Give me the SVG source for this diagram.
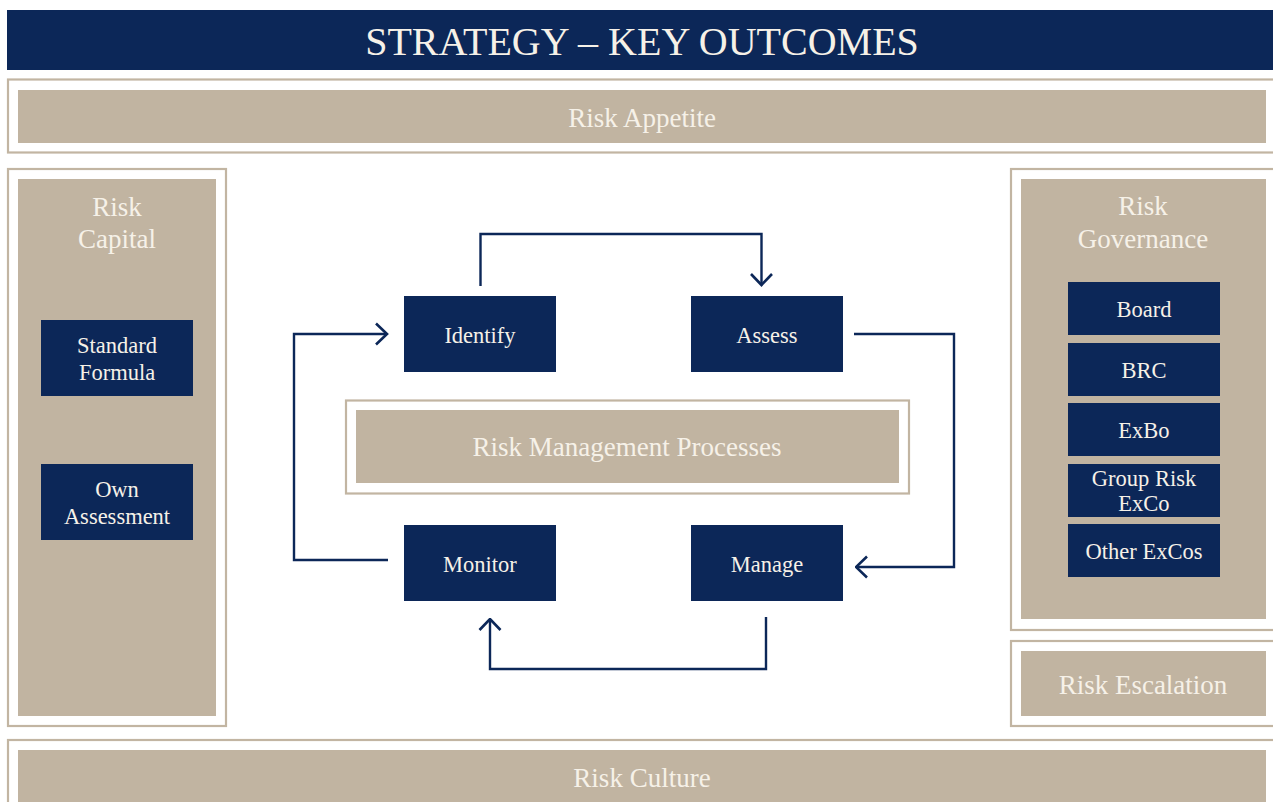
<svg xmlns="http://www.w3.org/2000/svg" width="1273" height="802" viewBox="0 0 1273 802">
  <defs>
    <style>
      .frame { fill: #ffffff; stroke: #c2b5a2; stroke-width: 2.2; }
      .panel { fill: #c1b4a1; }
      .navy { fill: #0c2758; }
      .lbl { font-family: "Liberation Serif", "DejaVu Serif", serif; fill: #f6f1e8; text-anchor: middle; }
      .big { font-size: 27px; }
      .node { font-size: 22.5px; }
      .title { font-size: 40px; }
      .link { fill: none; stroke: #0c2758; stroke-width: 2.4; stroke-linejoin: miter; }
    </style>
    <marker id="chev" viewBox="0 0 14 24" refX="12.5" refY="12" markerWidth="14" markerHeight="24" markerUnits="userSpaceOnUse" orient="auto">
      <path d="M1.5,1.5 L12.5,12 L1.5,22.5" fill="none" stroke="#0c2758" stroke-width="2.6"/>
    </marker>
  </defs>

  <rect width="1273" height="802" fill="#ffffff"/>

  <!-- header banner -->
  <g id="title">
    <rect class="navy" x="7" y="10" width="1266" height="60"/>
    <text class="lbl title" x="642" y="55">STRATEGY – KEY OUTCOMES</text>
  </g>

  <!-- risk appetite band -->
  <g id="risk-appetite">
    <rect class="frame" x="8" y="79.5" width="1280" height="73"/>
    <rect class="panel" x="18" y="90" width="1248" height="53"/>
    <text class="lbl big" x="642" y="127">Risk Appetite</text>
  </g>

  <!-- risk capital column -->
  <g id="risk-capital">
    <rect class="frame" x="8" y="169" width="218" height="557"/>
    <rect class="panel" x="18" y="179" width="198" height="537"/>
    <text class="lbl big" x="117" y="216">Risk</text>
    <text class="lbl big" x="117" y="248">Capital</text>
  </g>
  <g id="standard-formula">
    <rect class="navy" x="41" y="320" width="152" height="76"/>
    <text class="lbl node" x="117" y="353">Standard</text>
    <text class="lbl node" x="117" y="380">Formula</text>
  </g>
  <g id="own-assessment">
    <rect class="navy" x="41" y="464" width="152" height="76"/>
    <text class="lbl node" x="117" y="497">Own</text>
    <text class="lbl node" x="117" y="524">Assessment</text>
  </g>

  <!-- risk governance column -->
  <g id="risk-governance">
    <rect class="frame" x="1011" y="169" width="300" height="461"/>
    <rect class="panel" x="1021" y="179" width="245" height="440"/>
    <text class="lbl big" x="1143" y="215">Risk</text>
    <text class="lbl big" x="1143" y="248">Governance</text>
  </g>
  <g id="board">
    <rect class="navy" x="1068" y="282" width="152" height="53"/>
    <text class="lbl node" x="1144" y="317">Board</text>
  </g>
  <g id="brc">
    <rect class="navy" x="1068" y="343" width="152" height="53"/>
    <text class="lbl node" x="1144" y="378">BRC</text>
  </g>
  <g id="exbo">
    <rect class="navy" x="1068" y="403" width="152" height="53"/>
    <text class="lbl node" x="1144" y="438">ExBo</text>
  </g>
  <g id="group-risk-exco">
    <rect class="navy" x="1068" y="464" width="152" height="53"/>
    <text class="lbl node" x="1144" y="486">Group Risk</text>
    <text class="lbl node" x="1144" y="511">ExCo</text>
  </g>
  <g id="other-excos">
    <rect class="navy" x="1068" y="524" width="152" height="53"/>
    <text class="lbl node" x="1144" y="559">Other ExCos</text>
  </g>

  <!-- risk escalation -->
  <g id="risk-escalation">
    <rect class="frame" x="1011" y="641" width="300" height="85"/>
    <rect class="panel" x="1021" y="651" width="245" height="65"/>
    <text class="lbl big" x="1143" y="694">Risk Escalation</text>
  </g>

  <!-- risk culture band -->
  <g id="risk-culture">
    <rect class="frame" x="8" y="740" width="1300" height="100"/>
    <rect class="panel" x="18" y="750" width="1248" height="60"/>
    <text class="lbl big" x="642" y="787">Risk Culture</text>
  </g>

  <!-- centre: process cycle -->
  <g id="risk-management-processes">
    <rect class="frame" x="346" y="400.5" width="563" height="93"/>
    <rect class="panel" x="356" y="410" width="543" height="73"/>
    <text class="lbl big" x="627" y="456">Risk Management Processes</text>
  </g>
  <g id="identify">
    <rect class="navy" x="404" y="296" width="152" height="76"/>
    <text class="lbl node" x="480" y="343">Identify</text>
  </g>
  <g id="assess">
    <rect class="navy" x="691" y="296" width="152" height="76"/>
    <text class="lbl node" x="767" y="343">Assess</text>
  </g>
  <g id="monitor">
    <rect class="navy" x="404" y="525" width="152" height="76"/>
    <text class="lbl node" x="480" y="572">Monitor</text>
  </g>
  <g id="manage">
    <rect class="navy" x="691" y="525" width="152" height="76"/>
    <text class="lbl node" x="767" y="572">Manage</text>
  </g>

  <!-- cycle connectors -->
  <g id="connectors">
    <path class="link" d="M480.5,286 V234 H761.5 V285" marker-end="url(#chev)"/>
    <path class="link" d="M854,334 H954 V567 H856" marker-end="url(#chev)"/>
    <path class="link" d="M766,617 V669 H490 V619" marker-end="url(#chev)"/>
    <path class="link" d="M388,560 H294 V334 H387" marker-end="url(#chev)"/>
  </g>
</svg>
